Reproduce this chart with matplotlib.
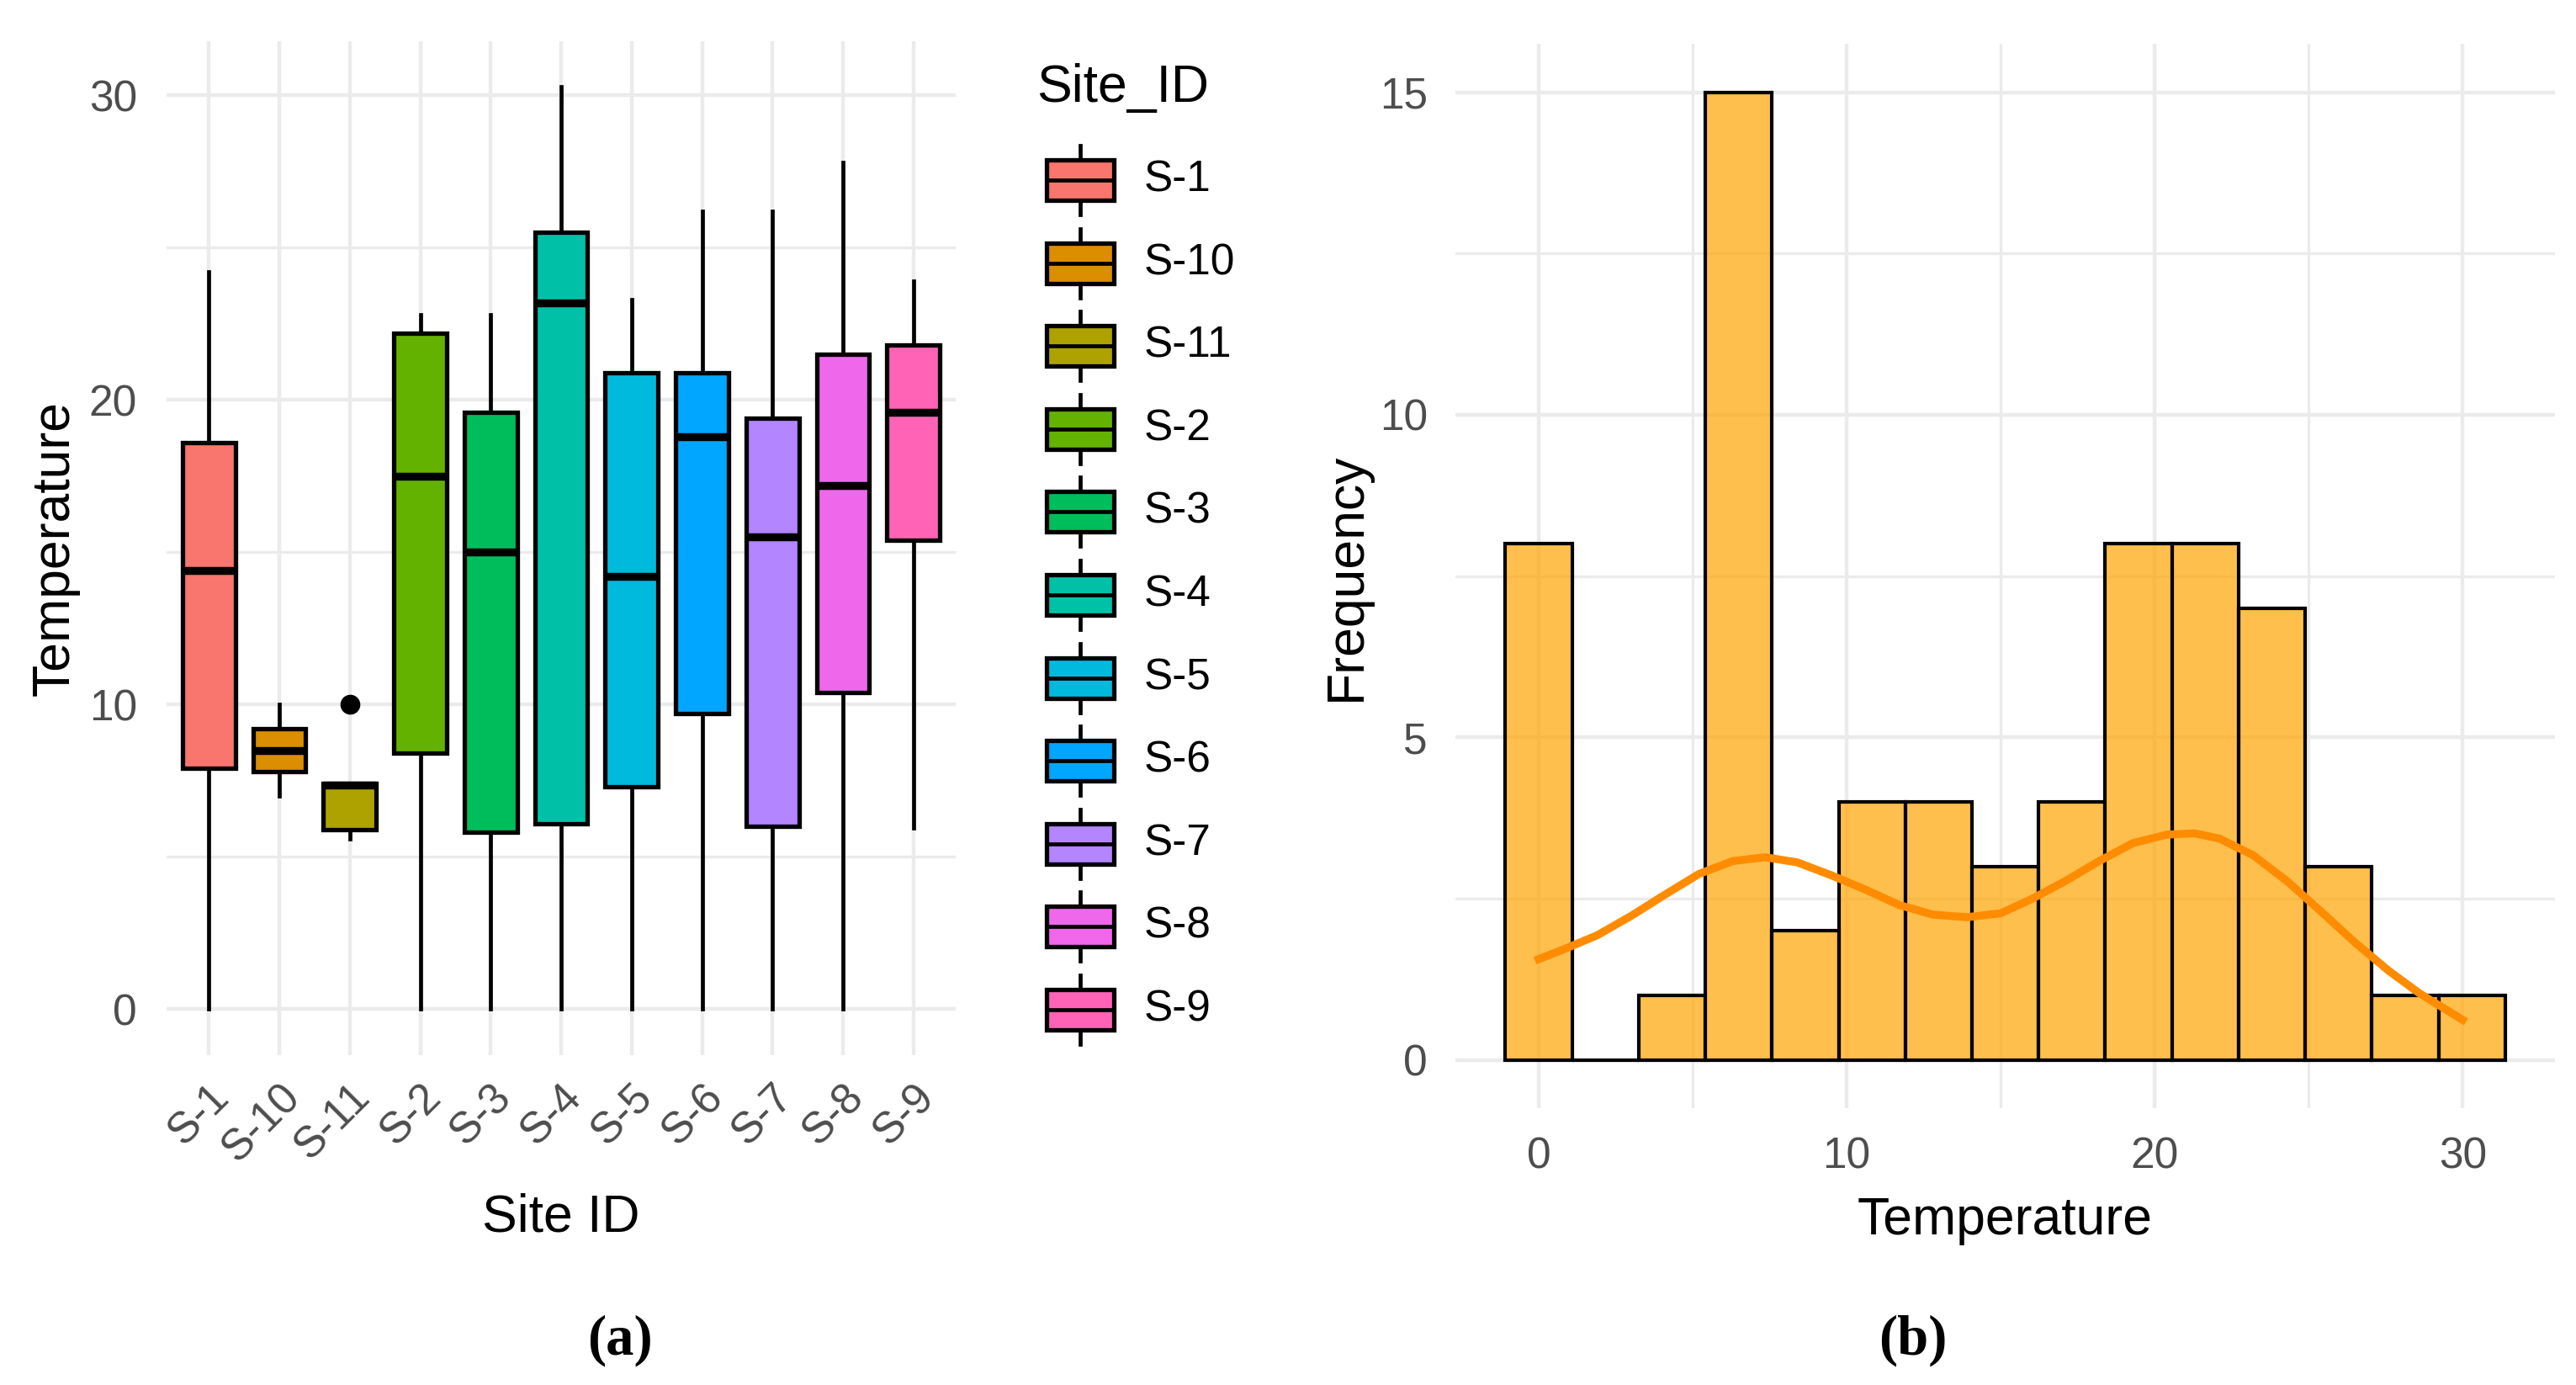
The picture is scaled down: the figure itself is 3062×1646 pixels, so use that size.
import numpy as np
import matplotlib
matplotlib.use("Agg")
import matplotlib.pyplot as plt
from matplotlib.patches import Rectangle
from matplotlib.ticker import MultipleLocator

plt.rcParams['font.family'] = ['Liberation Sans', 'DejaVu Sans']

# (a) temperature by site, box statistics
sites = ["S-1", "S-10", "S-11", "S-2", "S-3", "S-4", "S-5", "S-6", "S-7", "S-8", "S-9"]
whislo = [0.0, 7.0, 5.6, 0.0, 0.0, 0.0, 0.0, 0.0, 0.0, 0.0, 5.95]
q1 = [7.9, 7.8, 5.9, 8.4, 5.8, 6.1, 7.3, 9.7, 6.0, 10.4, 15.4]
med = [14.4, 8.5, 7.35, 17.5, 15.0, 23.2, 14.2, 18.8, 15.5, 17.2, 19.6]
q3 = [18.6, 9.2, 7.4, 22.2, 19.6, 25.5, 20.9, 20.9, 19.4, 21.5, 21.8]
whishi = [24.2, 10.0, 7.4, 22.8, 22.8, 30.3, 23.3, 26.2, 26.2, 27.8, 23.9]
outliers = [[], [], [10.0], [], [], [], [], [], [], [], []]
site_colors = ["#F8766D", "#DB8E00", "#AEA200", "#64B200", "#00BD5C", "#00C1A7",
               "#00BADE", "#00A6FF", "#B385FF", "#EF67EB", "#FF63B6"]

# (b) histogram of temperature (15 bins) and scaled density curve
hist_counts = [8, 0, 1, 15, 2, 4, 4, 3, 4, 8, 8, 7, 3, 1, 1]
temp_min, temp_max = 0.0, 30.3
dens_x = [0.0, 0.8, 1.9, 3.0, 4.1, 5.2, 6.3, 7.35, 8.4, 9.5, 10.6, 11.7, 12.8, 13.9,
          15.0, 16.0, 17.1, 18.2, 19.3, 20.4, 21.3, 22.1, 23.2, 24.3, 25.4, 26.5,
          27.6, 28.6, 30.0]
dens_y = [1.56, 1.71, 1.93, 2.23, 2.56, 2.88, 3.08, 3.14, 3.06, 2.86, 2.64, 2.40,
          2.25, 2.21, 2.27, 2.49, 2.77, 3.08, 3.36, 3.49, 3.51, 3.43, 3.17, 2.77,
          2.30, 1.82, 1.38, 1.03, 0.62]

W, H = 3062, 1646
TICK = 18.5
TITLE = 22.5
GRID = "#EBEBEB"
LW = 1.9

fig = plt.figure(figsize=(W / 200, H / 200), dpi=200)


def px_axes(left, top, right, bottom):
    return fig.add_axes([left / W, 1 - bottom / H, (right - left) / W, (bottom - top) / H])


def minimal(ax):
    for s in ax.spines.values():
        s.set_visible(False)
    ax.grid(True, which='major', color=GRID, lw=1.6)
    ax.grid(True, which='minor', color=GRID, lw=1.2)
    ax.set_axisbelow(True)
    ax.tick_params(which='both', length=0, labelsize=TICK, labelcolor='#4D4D4D')


# ---- panel (a)
ax1 = px_axes(198, 49, 1136, 1254)
minimal(ax1)
stats = []
for s, lo, a, m, b, hi, f in zip(sites, whislo, q1, med, q3, whishi, outliers):
    stats.append(dict(label=s, whislo=lo, q1=a, med=m, q3=b, whishi=hi, fliers=f))
pos = np.arange(1, len(sites) + 1)
bp = ax1.bxp(stats, positions=pos, widths=0.75, patch_artist=True, showcaps=False,
             boxprops=dict(edgecolor='black', linewidth=LW),
             whiskerprops=dict(color='black', linewidth=1.7),
             medianprops=dict(color='black', linewidth=3.4),
             flierprops=dict(marker='o', markerfacecolor='black',
                             markeredgecolor='black', markersize=7.5))
for patch, c in zip(bp['boxes'], site_colors):
    patch.set_facecolor(c)
ax1.set_xlim(0.4, len(sites) + 0.6)
ax1.set_ylim(-1.51, 31.78)
ax1.yaxis.set_major_locator(MultipleLocator(10))
ax1.yaxis.set_minor_locator(MultipleLocator(5))
ax1.set_xticks(pos)
ax1.set_xticklabels(sites, rotation=45, ha='right', va='top', rotation_mode='anchor')
ax1.tick_params(axis='x', pad=9)
ax1.tick_params(axis='y', pad=12.6)

# ---- panel (b)
ax2 = px_axes(1730, 52, 3037, 1317)
minimal(ax2)
binwidth = (temp_max - temp_min) / (len(hist_counts) - 1)
centers = temp_min + binwidth * np.arange(len(hist_counts))
ax2.bar(centers, hist_counts, width=binwidth, facecolor=(1.0, 0.647, 0.0, 0.7),
        edgecolor='black', linewidth=1.5, zorder=2)
ax2.plot(dens_x, dens_y, color='darkorange', lw=3.4, zorder=3)
ax2.set_xlim(-2.705, 33.0)
ax2.set_ylim(-0.75, 15.75)
ax2.xaxis.set_major_locator(MultipleLocator(10))
ax2.xaxis.set_minor_locator(MultipleLocator(5))
ax2.yaxis.set_major_locator(MultipleLocator(5))
ax2.yaxis.set_minor_locator(MultipleLocator(2.5))
ax2.tick_params(axis='x', pad=12)
ax2.tick_params(axis='y', pad=11.9)

# ---- titles, legend and captions in pixel coordinates
ov = fig.add_axes([0, 0, 1, 1])
ov.set_xlim(0, W)
ov.set_ylim(H, 0)
ov.axis('off')

ov.text(65, 651, "Temperature", fontsize=TITLE, rotation=90, ha='center', va='center')
ov.text(667, 1447, "Site ID", fontsize=TITLE, ha='center', va='center')
ov.text(1600, 685, "Frequency", fontsize=TITLE, rotation=90, ha='center', va='center')
ov.text(2383, 1450, "Temperature", fontsize=TITLE, ha='center', va='center')

ov.text(1232, 104, "Site_ID", fontsize=TITLE, ha='left', va='center')
for i, (s, c) in enumerate(zip(sites, site_colors)):
    cy = 214 + 98.6 * i
    ov.add_patch(Rectangle((1244, cy - 24), 80, 48, facecolor=c, edgecolor='black', lw=LW))
    ov.plot([1284, 1284], [cy - 41, cy - 24], color='black', lw=1.7)
    ov.plot([1284, 1284], [cy + 24, cy + 41], color='black', lw=1.7)
    ov.plot([1244, 1324], [cy, cy], color='black', lw=1.7)
    ov.text(1360, cy, s, fontsize=TICK, ha='left', va='center')

cap = dict(family=['Liberation Serif', 'DejaVu Serif'], fontweight='bold',
           fontsize=24, ha='center', va='center')
ov.text(737, 1593, "(a)", **cap)
ov.text(2274, 1593, "(b)", **cap)

fig.savefig("out.png", dpi=200, facecolor='white')
